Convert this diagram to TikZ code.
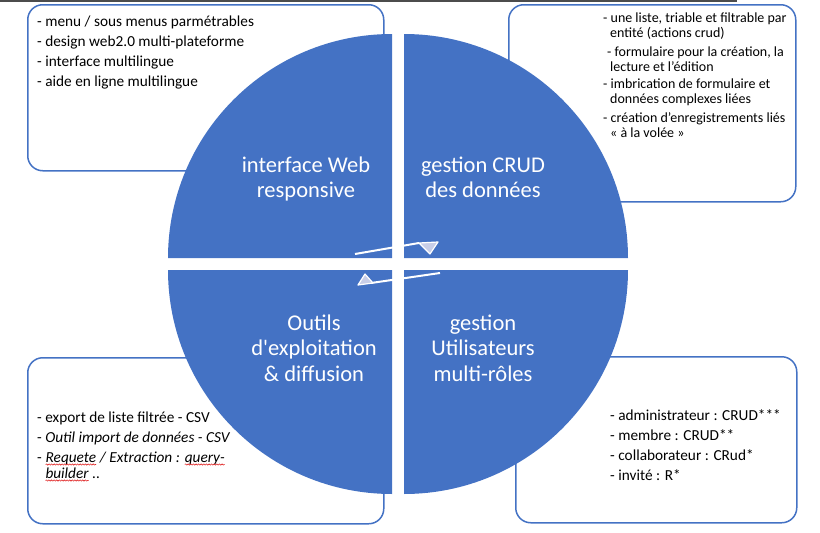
\documentclass[tikz,border=0pt]{standalone}
\usepackage{fontspec}
\setmainfont{Carlito}
\usetikzlibrary{decorations.pathmorphing}
\definecolor{quadblue}{HTML}{4472C4}
\definecolor{headfill}{RGB}{200,206,232}
\definecolor{spellred}{RGB}{225,40,40}
\newcommand\spellwave[1]{\tikz[baseline=(sw.base)]{%
   \node[inner sep=0pt, outer sep=0pt, anchor=base] (sw) {#1};
   \draw[spellred, line width=0.6pt, decorate,
      decoration={snake, amplitude=0.6pt, segment length=2.6pt}]
      ([yshift=-2.5pt]sw.base west) -- ([yshift=-2.5pt]sw.base east);}}

\begin{document}
\begin{tikzpicture}[
    x=1pt, y=-1pt,
    infobox/.style={
        draw=quadblue,
        line width=1.5pt,
        rounded corners=15pt,
        fill=white,
        anchor=north west,
        inner sep=0pt
    },
    quad/.style={fill=quadblue},
    quadtext/.style={
        text=white,
        align=center,
        anchor=base,
        font=\fontsize{22.5}{25.5}\selectfont
    },
    itemtext/.style={
        anchor=base west,
        inner sep=0pt,
        font=\fontsize{15.3}{20}\selectfont
    },
    smalltext/.style={
        anchor=base west,
        inner sep=0pt,
        font=\fontsize{14}{16}\selectfont
    },
    flow/.style={draw=white, line width=2pt},
    flowhead/.style={draw=white, fill=headfill, line width=1.2pt, line join=round}]

   \useasboundingbox (0,0) rectangle (820,533);
   \draw[gray!60!black, line width=1.5pt] (0,0.75) -- (737,0.75);

   % boxes round the circle
   \node[infobox, minimum width=356, minimum height=166] (webbox)  at (27,4)    {};
   \node[infobox, minimum width=287, minimum height=197] (crudbox) at (508,4)   {};
   \node[infobox, minimum width=356, minimum height=166] (toolbox) at (27,357)  {};
   \node[infobox, minimum width=281, minimum height=166] (userbox) at (515,356) {};

   % the four quarters
   \foreach \cx/\cy/\a in {392/258/180, 404/258/270, 404/270/0, 392/270/90}
      \fill[quad] (\cx,\cy) -- ++(\a:224) arc[start angle=\a, delta angle=90, radius=224] -- cycle;

   % base = last line
   \node[quadtext] (webq)  at (306,197.5) {interface Web\\responsive};
   \node[quadtext] (crudq) at (483,197.5) {gestion CRUD\\des données};
   \node[quadtext] (toolq) at (314,381)   {Outils\\d\textquotesingle exploitation\\\& diffusion};
   \node[quadtext] (userq) at (483,381)   {gestion\\Utilisateurs\\multi-rôles};

   % box texts
   \foreach \t [count=\i] in {- menu / sous menus parmétrables, - design web2.0 multi-plateforme,
         - interface multilingue, - aide en ligne multilingue}
      \node[itemtext] (web-\i) at (37,{6.5+20*\i}) {\t};

   \foreach \x/\y/\t [count=\i] in {603/22/{- une liste, triable et filtrable par},
         610/37/{entité (actions crud)}, 607/56/{- formulaire pour la création, la},
         610/71/{lecture et l’édition}, 603/88/{- imbrication de formulaire et},
         610/103/{données complexes liées}, 603/122/{- création d’enregistrements liés},
         610/137/{«~à la volée~»}}
      \node[smalltext] (crud-\i) at (\x,\y) {\t};

   \foreach \x/\y/\t [count=\i] in {37/422/{- export de liste filtrée - CSV},
         37/442/{- \textit{Outil import de données - CSV}},
         37/462/{- \textit{\spellwave{Requete} / Extraction : \spellwave{query-}}},
         45/478/{\textit{\spellwave{builder} ..}}}
      \node[itemtext] (tool-\i) at (\x,\y) {\t};

   \foreach \t [count=\i] in {- administrateur : CRUD***, - membre : CRUD**,
         - collaborateur : CRud*, - invité : R*}
      \node[itemtext] (user-\i) at (610,{400+20*\i}) {\t};

   % arrows in the middle
   \coordinate (fwd-s)  at (355,254);
   \coordinate (fwd-e)  at (419,243);
   \coordinate (back-s) at (440,273);
   \coordinate (back-e) at (371,283);
   \draw[flow] (fwd-s) -- (fwd-e);
   \path[flowhead] (fwd-e) -- (438,242) -- (430,254) -- cycle;
   \draw[flow] (back-s) -- (back-e);
   \path[flowhead] (358,285) -- (365,274) -- (373,283) -- cycle;
\end{tikzpicture}
\end{document}
